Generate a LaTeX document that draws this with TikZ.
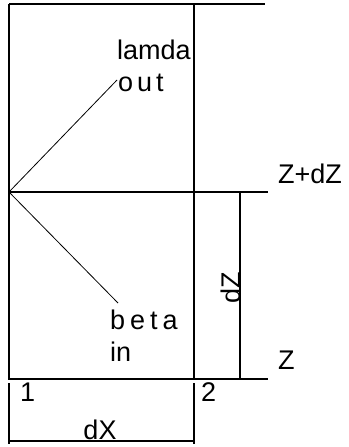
\documentclass[tikz,border=0pt]{standalone}
\usepackage{fontspec}
\setmainfont{Liberation Sans}
\begin{document}
\begin{tikzpicture}[x=1pt,y=-1pt,
  frame/.style={line width=1.6pt,black},
  thinl/.style={line width=0.8pt,black},
  lbl/.style={font=\fontsize{27}{30}\selectfont,inner sep=0pt,text=black}]
\useasboundingbox (0,0) rectangle (348,447);
\fill[white] (0,0) rectangle (348,447);
% corners
\coordinate (TL) at (9,4);
\coordinate (TR) at (194,4);
\coordinate (TE) at (265,4);
\coordinate (ML) at (9,192);
\coordinate (MR) at (194,192);
\coordinate (ME) at (268,192);
\coordinate (BL) at (9,379);
\coordinate (BR) at (194,379);
\coordinate (BE) at (268,379);
\coordinate (DZt) at (240,193);
\coordinate (DZb) at (240,379);
\coordinate (XL) at (9,444);
\coordinate (XR) at (194,444);
\coordinate (XLt) at (9,383);
\coordinate (XRt) at (194,383);
\coordinate (DXl) at (9,441);
\coordinate (DXr) at (194,441);
\coordinate (Lend) at (117,80);
\coordinate (Bend) at (118,303);
% labels
\node[lbl,anchor=south west] (lamda) at (117,60) {lamda};
\node[lbl,anchor=south west] (out) at (118,92) {o\hspace{4pt}u\hspace{4pt}t};
\node[lbl,anchor=south west] (beta) at (110,330) {b\hspace{5pt}e\hspace{5pt}t\hspace{5pt}a};
\node[lbl,anchor=south west] (in) at (110,362) {in};
\node[lbl,anchor=south west] (ZdZ) at (278,184) {Z+dZ};
\node[lbl,anchor=south west] (Z) at (278,370) {Z};
\node[lbl,anchor=south west] (one) at (20,402) {1};
\node[lbl,anchor=south west] (two) at (201,402) {2};
\node[lbl,anchor=south] (dX) at (100,440) {dX};
\node[lbl,rotate=90,anchor=south] (dZ) at (241,288) {dZ};
% frame
\draw[frame] (TL) -- (TE);
\draw[frame] (TL) -- (BL) -- (BE);
\draw[frame] (TR) -- (BR);
\draw[frame] (ML) -- (ME);
% dimension dZ
\draw[thinl,line width=1.2pt] (DZt) -- (DZb);
% extension lines and dX
\draw[thinl,line width=1.2pt] (XLt) -- (XL);
\draw[thinl,line width=1.2pt] (XRt) -- (XR);
\draw[thinl,line width=1.2pt] (DXl) -- (DXr);
% rays
\draw[thinl] (ML) -- (Lend);
\draw[thinl] (ML) -- (Bend);
\end{tikzpicture}
\end{document}
